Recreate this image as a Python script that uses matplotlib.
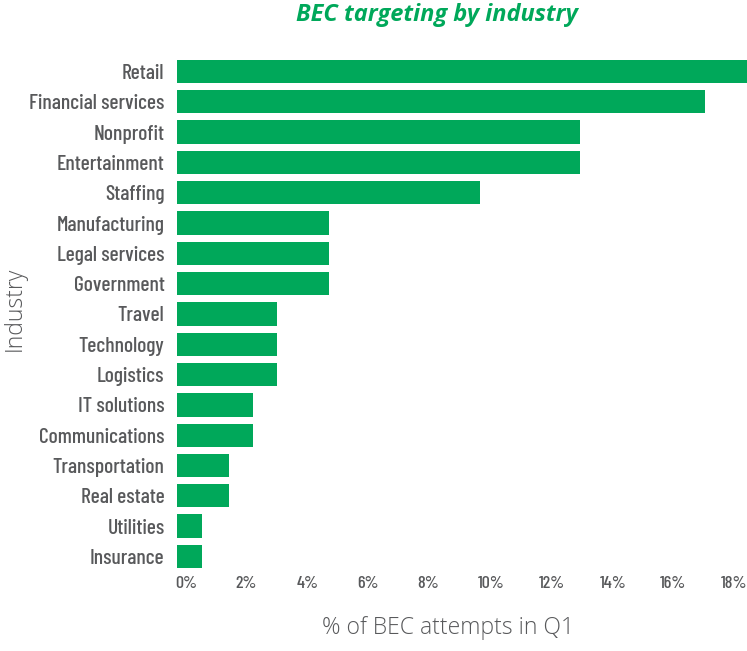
import matplotlib.pyplot as plt
from matplotlib import font_manager
from matplotlib.ticker import FuncFormatter
from matplotlib.transforms import ScaledTranslation

# data
industries = ["Retail", "Financial services", "Nonprofit", "Entertainment", "Staffing",
              "Manufacturing", "Legal services", "Government", "Travel", "Technology",
              "Logistics", "IT solutions", "Communications", "Transportation",
              "Real estate", "Utilities", "Insurance"]
shares = [19.0, 17.4, 13.3, 13.3, 10.0, 5.0, 5.0, 5.0, 3.3, 3.3, 3.3,
          2.5, 2.5, 1.7, 1.7, 0.83, 0.83]
x_ticks = [0, 2, 4, 6, 8, 10, 12, 14, 16, 18]

green = "#00a85a"
grey = "#58595b"


def pick(*fams):
    have = {f.name for f in font_manager.fontManager.ttflist}
    for f in fams:
        if f in have:
            return f
    return "DejaVu Sans"


cond = pick("Barlow Condensed", "Roboto Condensed", "Archivo Narrow", "PT Sans Narrow",
            "Liberation Sans Narrow")
title_font = pick("Open Sans", "Lato")
label_font = pick("Open Sans", "Lato")

fig = plt.figure(figsize=(7.47, 6.51), dpi=100)
ax = fig.add_axes([0.237, 0.122, 0.763, 0.7915])

pos = list(range(len(industries)))
ax.barh(pos, shares, height=0.77, color=green)
ax.set_ylim(len(industries) - 0.5, -0.5)
ax.set_xlim(0, 18.8)

ax.set_yticks(pos)
ax.set_yticklabels(industries, family=cond, fontsize=15.5, fontweight=500, color=grey)
ax.set_xticks(x_ticks)
ax.xaxis.set_major_formatter(FuncFormatter(lambda v, p: f"{v:.0f}%"))
ax.tick_params(axis="both", length=0)
ax.tick_params(axis="y", pad=9)
ax.tick_params(axis="x", pad=3)

# labels sit left-aligned on the tick, nudged a little left
nudge = ScaledTranslation(-1.5 / 72, 0, fig.dpi_scale_trans)
for lbl in ax.xaxis.get_majorticklabels():
    lbl.set_family(cond)
    lbl.set_fontsize(13)
    lbl.set_fontweight(500)
    lbl.set_color(grey)
    lbl.set_horizontalalignment("left")
    lbl.set_transform(lbl.get_transform() + nudge)

for s in ax.spines.values():
    s.set_visible(False)

fig.text(0.02, 0.525, "Industry", rotation=90, ha="center", va="center",
         fontsize=16.5, color=grey, family=label_font, fontweight="light")
fig.text(0.60, 0.035, "% of BEC attempts in Q1", ha="center", va="center",
         fontsize=16.5, color=grey, family=label_font, fontweight="light")
fig.text(0.585, 0.977, "BEC targeting by industry", ha="center", va="center",
         fontsize=17, color=green, family=title_font, fontweight="bold", style="italic")

fig.savefig("out.png", dpi=100)
